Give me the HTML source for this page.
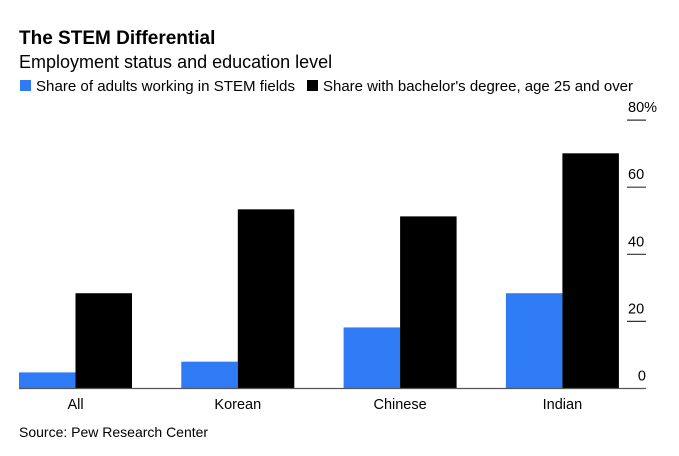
<!DOCTYPE html>
<html><head><meta charset="utf-8"><style>
body{margin:0;background:#fff;font-family:"Liberation Sans",Arial,sans-serif;}
#wrap{position:relative;width:679px;height:456px;overflow:hidden;}
</style></head><body>
<div id="wrap">
<svg id="c" width="679" height="456" xmlns="http://www.w3.org/2000/svg">
<text x="19" y="44" font-size="19" font-weight="bold" fill="#000">The STEM Differential</text>
<text x="19" y="68" font-size="18" fill="#000">Employment status and education level</text>
<g><rect x="20" y="80" width="11" height="11" fill="#2f7bf6"/><text x="36" y="91" font-size="14.8" fill="#000" textLength="259" lengthAdjust="spacingAndGlyphs">Share of adults working in STEM fields</text></g>
<g><rect x="307" y="80" width="11" height="11" fill="#000"/><text x="323" y="91" font-size="14.8" fill="#000" textLength="310" lengthAdjust="spacingAndGlyphs">Share with bachelor's degree, age 25 and over</text></g>
<g id="bars"></g>
<g id="axis"></g>
<text x="19" y="437" font-size="14" fill="#000">Source: Pew Research Center</text>
</svg>
</div>
<script>
const categories=["All","Korean","Chinese","Indian"];
const stemShare=[4.8,8,18.2,28.4];
const bachelorShare=[28.4,53.4,51.3,70.1];
const tickValues=[0,20,40,60,80];
const tickLabels=["0","20","40","60","80%"];
const NS="http://www.w3.org/2000/svg";
const y0=388.5, pxPer=3.355;
function yScale(v){return y0-v*pxPer;}
function xGroup(i){return 19+i*162.3;}
const bw=56.5;
const bars=document.getElementById('bars');
function mk(tag,attrs){const e=document.createElementNS(NS,tag);for(const k in attrs)e.setAttribute(k,attrs[k]);return e;}
categories.forEach((c,i)=>{
  const x=xGroup(i);
  const b1=mk('rect',{x:x,y:yScale(stemShare[i]),width:bw,height:y0-yScale(stemShare[i]),fill:'#2f7bf6'});
  
  
  bars.appendChild(b1);
  const b2=mk('rect',{x:x+bw,y:yScale(bachelorShare[i]),width:bw,height:y0-yScale(bachelorShare[i]),fill:'#000'});
  
  
  bars.appendChild(b2);
  const t=mk('text',{x:x+bw,y:409,'font-size':14.5,'text-anchor':'middle',fill:'#000'});
  t.textContent=c;
  
  
  bars.appendChild(t);
});
const axis=document.getElementById('axis');
const base=mk('line',{x1:19,x2:646,y1:y0,y2:y0,stroke:'#555','stroke-width':1.2});


axis.appendChild(base);
tickValues.forEach((v,i)=>{
  const y=yScale(v);
  if(v>0){
    const l=mk('line',{x1:627,x2:646,y1:y,y2:y,stroke:'#333','stroke-width':1.2});
    
    
    axis.appendChild(l);
  }
  const t=mk('text',{x:628,y:y-8,'font-size':14.5,fill:'#000'});
  if(v===0){t.setAttribute('x',646);t.setAttribute('text-anchor','end');}
  t.textContent=tickLabels[i];
  
  
  axis.appendChild(t);
});
</script>
</body></html>
